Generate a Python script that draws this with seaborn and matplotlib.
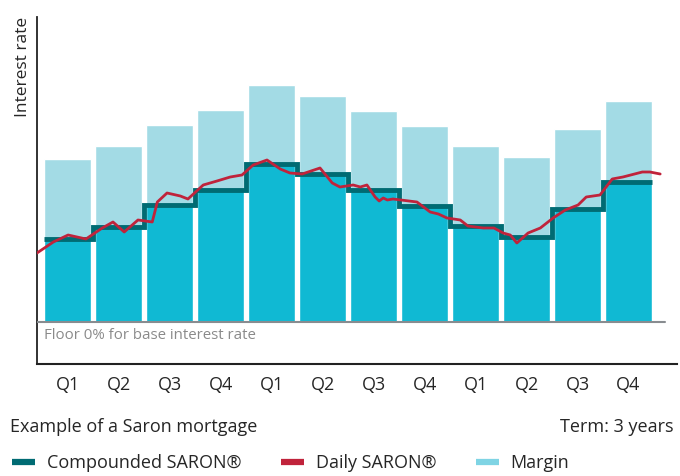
import numpy as np
import pandas as pd
import seaborn as sns
import matplotlib.pyplot as plt
from matplotlib.lines import Line2D

# quarterly values (interest rate, arbitrary %)
quarters = ["Q1", "Q2", "Q3", "Q4", "Q1", "Q2", "Q3", "Q4", "Q1", "Q2", "Q3", "Q4"]
compounded = [0.83, 0.95, 1.17, 1.32, 1.58, 1.48, 1.32, 1.16, 0.96, 0.85, 1.13, 1.40]
margin = [0.80, 0.81, 0.80, 0.80, 0.79, 0.78, 0.79, 0.80, 0.80, 0.80, 0.80, 0.81]

# daily SARON (time in quarters, bar centres at 0..11)
daily_t = [-0.60, -0.28, 0.01, 0.36, 0.68, 0.89, 1.11, 1.38, 1.66, 1.76, 1.95, 2.21,
           2.36, 2.66, 2.93, 3.19, 3.42, 3.64, 3.91, 4.17, 4.36, 4.60, 4.95, 5.19,
           5.34, 5.60, 5.74, 5.87, 6.03, 6.11, 6.19, 6.27, 6.38, 6.85, 7.11, 7.27,
           7.44, 7.70, 7.85, 8.15, 8.36, 8.54, 8.68, 8.81, 9.03, 9.27, 9.52, 9.76,
           10.01, 10.17, 10.44, 10.68, 10.89, 11.27, 11.42, 11.62]
daily_rate = [0.69, 0.80, 0.87, 0.83, 0.94, 1.00, 0.90, 1.02, 1.00, 1.20, 1.29, 1.26,
              1.23, 1.37, 1.41, 1.45, 1.47, 1.57, 1.62, 1.53, 1.49, 1.48, 1.54, 1.39,
              1.35, 1.37, 1.35, 1.37, 1.25, 1.21, 1.24, 1.22, 1.23, 1.20, 1.10, 1.08,
              1.04, 1.02, 0.96, 0.94, 0.94, 0.89, 0.87, 0.79, 0.89, 0.94, 1.04, 1.12,
              1.17, 1.25, 1.27, 1.43, 1.45, 1.50, 1.50, 1.48]

c_base = "#10b9d3"
c_margin = "#a3dbe5"
c_comp = "#006b73"
c_daily = "#c0233b"

sns.set_style("white")
plt.rcParams["font.family"] = ["Open Sans", "DejaVu Sans"]

df = pd.DataFrame({"pos": range(len(quarters)), "base": compounded,
                   "total": np.add(compounded, margin)})

fig = plt.figure(figsize=(6.8, 4.76), dpi=100)
ax = fig.add_axes([0.0544, 0.2353, 0.9412, 0.729])

sns.barplot(data=df, x="pos", y="total", color=c_margin, width=0.92,
            saturation=1, ax=ax, native_scale=True)
sns.barplot(data=df, x="pos", y="base", color=c_base, width=0.92,
            saturation=1, ax=ax, native_scale=True)

n = len(quarters)
edges = np.r_[-0.46, np.arange(n - 1) + 0.5, n - 1 + 0.46]
ax.stairs(compounded, edges, baseline=None, color=c_comp, linewidth=3.5, zorder=3)
ax.plot(daily_t, daily_rate, color=c_daily, linewidth=2, zorder=4)

ax.axhline(0, xmin=0, xmax=(11.72 + 0.6) / 12.55, color="#888c90", linewidth=1.5, zorder=5)
ax.text(-0.46, -0.06, "Floor 0% for base interest rate", color="#8a8a8a",
        fontsize=10.8, va="top", ha="left")

ax.set_xlim(-0.6, 11.95)
ax.set_ylim(-0.42, 3.05)
ax.set_xticks(range(n))
ax.set_xticklabels(quarters, fontsize=13)
ax.tick_params(axis="x", length=0, pad=9)
ax.set_yticks([])
ax.set_xlabel("")
ax.set_ylabel("Interest rate", fontsize=12.5, loc="top", labelpad=4)
for s in ["top", "right"]:
    ax.spines[s].set_visible(False)
ax.spines["left"].set_color("#222222")
ax.spines["bottom"].set_color("#222222")
ax.spines["left"].set_linewidth(1.3)
ax.spines["bottom"].set_linewidth(1.5)

fig.text(0.015, 0.103, "Example of a Saron mortgage", fontsize=13, va="center")
fig.text(0.991, 0.103, "Term: 3 years", fontsize=13, va="center", ha="right")

handles = [Line2D([], [], color=c_comp, linewidth=4.5, solid_capstyle="butt"),
           Line2D([], [], color=c_daily, linewidth=4.5, solid_capstyle="butt"),
           Line2D([], [], color="#7fd4e4", linewidth=4.5, solid_capstyle="butt")]
fig.legend(handles, ["Compounded SARON®", "Daily SARON®", "Margin"],
           loc="center left", bbox_to_anchor=(0.0176, 0.027), ncol=3,
           frameon=False, fontsize=13, handlelength=1.27, handletextpad=0.65,
           columnspacing=2.2, borderaxespad=0, borderpad=0)

fig.savefig("out.png", dpi=100)
